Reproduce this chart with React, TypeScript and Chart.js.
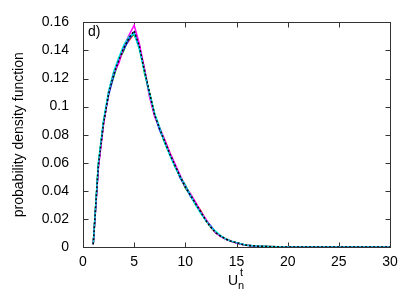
import React, { useEffect, useRef } from "react";
import { Chart, registerables } from "chart.js";

Chart.register(...registerables);

const X_VALUES = [1, 1.5, 2, 2.5, 3, 3.5, 4, 4.5, 5, 5.5, 6, 6.5, 7, 7.5, 8, 8.5, 9, 9.5, 10, 10.5, 11, 11.5, 12, 12.5, 13, 13.5, 14, 14.5, 15, 15.5, 16, 17, 18, 19, 20, 25, 30];

const BLACK = [0.002, 0.058, 0.088, 0.109, 0.123, 0.133, 0.142, 0.149, 0.154, 0.143, 0.126, 0.110, 0.094, 0.084, 0.075, 0.066, 0.058, 0.050, 0.043, 0.037, 0.031, 0.025, 0.019, 0.014, 0.010, 0.0075, 0.0055, 0.004, 0.003, 0.002, 0.0012, 0.0006, 0.0003, 0.0001, 0, 0, 0];
const CYAN = [0.002, 0.060, 0.090, 0.111, 0.125, 0.135, 0.144, 0.150, 0.152, 0.141, 0.125, 0.109, 0.095, 0.085, 0.074, 0.065, 0.057, 0.050, 0.044, 0.037, 0.030, 0.024, 0.019, 0.014, 0.011, 0.0078, 0.0056, 0.0042, 0.0031, 0.0021, 0.0013, 0.0007, 0.0003, 0.0001, 0, 0, 0];
const MAGENTA = [0.002, 0.056, 0.087, 0.110, 0.124, 0.131, 0.143, 0.151, 0.158, 0.145, 0.127, 0.107, 0.093, 0.085, 0.076, 0.067, 0.059, 0.051, 0.043, 0.038, 0.032, 0.025, 0.020, 0.014, 0.010, 0.0072, 0.0054, 0.0041, 0.0029, 0.002, 0.0012, 0.0006, 0.0002, 0.0001, 0, 0, 0];
const BLUE = [0.002, 0.057, 0.089, 0.108, 0.122, 0.134, 0.141, 0.148, 0.153, 0.142, 0.126, 0.109, 0.094, 0.083, 0.075, 0.066, 0.058, 0.049, 0.043, 0.036, 0.031, 0.025, 0.019, 0.015, 0.010, 0.0076, 0.0055, 0.004, 0.003, 0.002, 0.0012, 0.0006, 0.0003, 0.0001, 0, 0, 0];
const GREEN = [0.002, 0.059, 0.088, 0.110, 0.121, 0.133, 0.140, 0.150, 0.151, 0.144, 0.124, 0.110, 0.095, 0.084, 0.074, 0.066, 0.057, 0.050, 0.042, 0.037, 0.030, 0.025, 0.019, 0.014, 0.010, 0.0074, 0.0055, 0.004, 0.003, 0.002, 0.0012, 0.0006, 0.0003, 0.0001, 0, 0, 0];
const RED = [0.002, 0.058, 0.088, 0.109, 0.124, 0.132, 0.142, 0.147, 0.152, 0.143, 0.127, 0.108, 0.094, 0.084, 0.076, 0.067, 0.058, 0.050, 0.044, 0.037, 0.031, 0.026, 0.019, 0.014, 0.010, 0.0075, 0.0056, 0.004, 0.003, 0.002, 0.0012, 0.0006, 0.0003, 0.0001, 0, 0, 0];

const X_TICKS = [0, 5, 10, 15, 20, 25, 30];
const Y_TICKS = [0, 0.02, 0.04, 0.06, 0.08, 0.1, 0.12, 0.14, 0.16];

const PANEL_LABEL = "d)";
const Y_TITLE = "probability density function";

const FONT = "'Liberation Sans', Arial, sans-serif";

function pts(ys: number[]) {
  return X_VALUES.map((x, i) => ({ x, y: ys[i] }));
}

const gnuplotPlugin = {
  id: "gnuplotFrame",
  beforeDatasetsDraw(chart: any) {
    const { ctx, chartArea, scales } = chart;
    const { left, right, top, bottom } = chartArea;
    ctx.save();
    ctx.strokeStyle = "#333";
    ctx.lineWidth = 1;
    const L = Math.round(left) + 0.5;
    const R = Math.round(right) + 0.5;
    const T = Math.round(top) + 0.5;
    const B = Math.round(bottom) + 0.5;
    ctx.strokeRect(L, T, R - L, B - T);
    const tl = 5;
    ctx.beginPath();
    X_TICKS.forEach((v) => {
      const px = Math.round(scales.x.getPixelForValue(v)) + 0.5;
      ctx.moveTo(px, B);
      ctx.lineTo(px, B - tl);
      ctx.moveTo(px, T);
      ctx.lineTo(px, T + tl);
    });
    Y_TICKS.forEach((v) => {
      const py = Math.round(scales.y.getPixelForValue(v)) + 0.5;
      ctx.moveTo(L, py);
      ctx.lineTo(L + tl, py);
      ctx.moveTo(R, py);
      ctx.lineTo(R - tl, py);
    });
    ctx.stroke();
    ctx.restore();
  },
  afterDraw(chart: any) {
    const { ctx, chartArea } = chart;
    const { left, right, top, bottom } = chartArea;
    ctx.save();
    ctx.fillStyle = "#000";
    ctx.font = `14px ${FONT}`;
    ctx.textAlign = "left";
    ctx.textBaseline = "middle";
    ctx.fillText(PANEL_LABEL, left + 5, top + 10);
    ctx.save();
    ctx.translate(19, (top + bottom) / 2);
    ctx.rotate(-Math.PI / 2);
    ctx.textAlign = "center";
    ctx.textBaseline = "middle";
    ctx.fillText(Y_TITLE, 0, 0);
    ctx.restore();
    const cx = (left + right) / 2;
    const by = 285;
    ctx.textBaseline = "alphabetic";
    ctx.textAlign = "left";
    ctx.font = `14px ${FONT}`;
    const wU = ctx.measureText("U").width;
    const x0 = cx - (wU + 7) / 2;
    ctx.fillText("U", x0, by);
    ctx.font = `11px ${FONT}`;
    ctx.fillText("n", x0 + wU, by + 4);
    ctx.fillText("t", x0 + wU + 2, by - 9);
    ctx.restore();
  },
};

export default function App() {
  const ref = useRef<HTMLCanvasElement | null>(null);
  useEffect(() => {
    if (!ref.current) return;
    const mk = (label: string, data: number[], color: string, dash: number[] = [], width = 1.5) => ({
      label,
      data: pts(data),
      borderColor: color,
      backgroundColor: color,
      borderWidth: width,
      borderDash: dash,
      pointRadius: 0,
      tension: 0,
      fill: false,
    });
    const chart = new Chart(ref.current, {
      type: "line",
      data: {
        datasets: [
          mk("black", BLACK, "#000000", [2, 2], 1.5),
          mk("cyan", CYAN, "#00e0e0"),
          mk("magenta", MAGENTA, "#ff00ff"),
          mk("blue", BLUE, "#1040ff"),
          mk("green", GREEN, "#00d000"),
          mk("red", RED, "#ff2020"),
        ],
      },
      options: {
        animation: false,
        responsive: false,
        maintainAspectRatio: false,
        devicePixelRatio: 1,
        layout: { padding: { left: 0, right: 25, top: 17, bottom: 0 } },
        plugins: { legend: { display: false }, tooltip: { enabled: false } },
        scales: {
          x: {
            type: "linear",
            min: 0,
            max: 30,
            afterBuildTicks: (s: any) => {
              s.ticks = X_TICKS.map((v) => ({ value: v }));
            },
            afterFit: (s: any) => {
              s.height = 44;
            },
            grid: { display: false, drawTicks: false },
            border: { display: false },
            ticks: {
              color: "#000",
              padding: 7,
              maxRotation: 0,
              font: { family: FONT, size: 14 },
              callback: (v: any) => String(v),
            },
          },
          y: {
            type: "linear",
            min: 0,
            max: 0.16,
            afterBuildTicks: (s: any) => {
              s.ticks = Y_TICKS.map((v) => ({ value: v }));
            },
            afterFit: (s: any) => {
              s.width = 83;
            },
            grid: { display: false, drawTicks: false },
            border: { display: false },
            ticks: {
              color: "#000",
              padding: 14,
              font: { family: FONT, size: 14 },
              callback: (v: any) => String(+Number(v).toFixed(2)),
            },
          },
        },
      },
      plugins: [gnuplotPlugin],
    });
    return () => chart.destroy();
  }, []);
  return (
    <div style={{ position: "absolute", left: 0, top: 0, width: 415, height: 291, background: "#fff" }}>
      <canvas ref={ref} width={415} height={291} />
    </div>
  );
}
